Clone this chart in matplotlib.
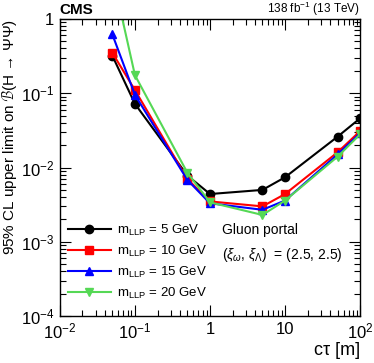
import matplotlib
matplotlib.use("Agg")
import matplotlib.pyplot as plt
from matplotlib.ticker import FixedLocator, LogLocator, NullFormatter, FixedFormatter

plt.rcParams['font.family'] = ['Liberation Sans', 'DejaVu Sans']
plt.rcParams['mathtext.fontset'] = 'custom'
plt.rcParams['mathtext.rm'] = 'Liberation Sans'
plt.rcParams['mathtext.it'] = 'Liberation Sans:italic'

ctau = [0.05, 0.1, 0.5, 1, 5, 10, 50, 100]
lim_5 = [0.32, 0.072, 0.0078, 0.0044, 0.0050, 0.0074, 0.026, 0.046]
lim_10 = [0.35, 0.11, 0.0070, 0.0035, 0.0030, 0.0044, 0.016, 0.031]
lim_15 = [0.62, 0.095, 0.0068, 0.0033, 0.0027, 0.0036, 0.015, 0.029]
lim_20 = [4.0, 0.175, 0.0085, 0.0034, 0.0023, 0.0036, 0.014, 0.028]

series = [
    (lim_5, "5", "black", "o"),
    (lim_10, "10", "#ff0000", "s"),
    (lim_15, "15", "#0000ff", "^"),
    (lim_20, "20", "#55d855", "v"),
]

fig = plt.figure(figsize=(3.74, 3.63), dpi=100)
ax = fig.add_axes([0.160, 0.129, 0.803, 0.819])

for vals, m, col, mk in series:
    ax.plot(ctau, vals, color=col, marker=mk, markersize=6, linewidth=1.5,
            label=r"m$_{\mathrm{LLP}}$ = " + m + " GeV")

ax.set_xscale("log")
ax.set_yscale("log")
ax.set_xlim(1e-2, 1e2)
ax.set_ylim(1e-4, 1)

ax.xaxis.set_major_locator(FixedLocator([1e-2, 1e-1, 1, 10, 100]))
ax.xaxis.set_major_formatter(FixedFormatter([r"10$^{-2}$", r"10$^{-1}$", "1", "10", r"10$^{2}$"]))
ax.yaxis.set_major_locator(FixedLocator([1e-4, 1e-3, 1e-2, 1e-1, 1]))
ax.yaxis.set_major_formatter(FixedFormatter([r"10$^{-4}$", r"10$^{-3}$", r"10$^{-2}$", r"10$^{-1}$", "1"]))
for a in (ax.xaxis, ax.yaxis):
    a.set_minor_locator(LogLocator(base=10, subs=range(2, 10), numticks=20))
    a.set_minor_formatter(NullFormatter())

ax.tick_params(which="both", direction="in", top=True, right=True, labelsize=12, pad=4)
ax.tick_params(which="major", length=8, width=0.8)
ax.tick_params(which="minor", length=4, width=0.8)
for s in ax.spines.values():
    s.set_linewidth(1.0)

ax.set_xlabel("cτ [m]", fontsize=13, loc="right", labelpad=0)
ax.set_ylabel(r"95% CL upper limit on $\mathcal{B}$(H → ΨΨ)", fontsize=11, loc="top", labelpad=1)

ax.text(0.0, 1.006, "CMS", transform=ax.transAxes, fontsize=11, fontweight="bold", ha="left", va="bottom")
ax.text(1.0, 1.004, r"138 fb$^{-1}$ (13 TeV)", transform=ax.transAxes, fontsize=8.5, ha="right", va="bottom")

ax.legend(loc="lower left", bbox_to_anchor=(-0.005, 0.02), frameon=False, fontsize=9.5,
          handlelength=3.3, labelspacing=0.45, handletextpad=0.45, borderaxespad=0.3)

ax.text(0.54, 0.29, "Gluon portal", transform=ax.transAxes, fontsize=10, ha="left", va="center")
ax.text(0.54, 0.205, r"($\xi_\omega$, $\xi_\Lambda$)  = (2.5, 2.5)", transform=ax.transAxes,
        fontsize=10, ha="left", va="center")

fig.savefig("out.png", dpi=100)
